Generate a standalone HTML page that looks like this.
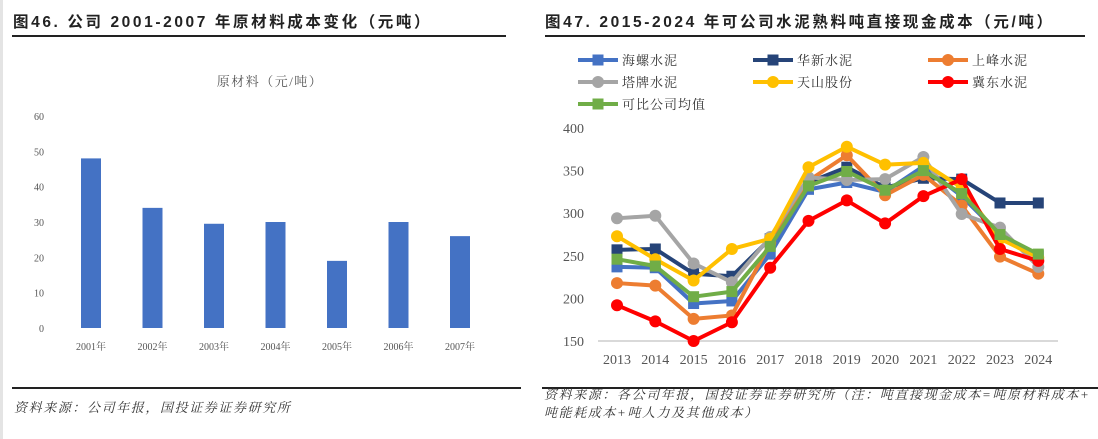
<!DOCTYPE html>
<html><head><meta charset="utf-8"><style>
body{margin:0;width:1098px;height:439px;background:#fff;overflow:hidden;position:relative;font-family:"Liberation Serif","Noto Serif CJK SC",serif}
.t{position:absolute;font-family:"Liberation Sans","Noto Sans CJK SC",sans-serif;font-weight:bold;font-size:15.5px;color:#222;white-space:nowrap}
.hl{position:absolute;height:2px;background:#222}
.src{position:absolute;font-style:italic;font-size:13px;letter-spacing:1.6px;color:#333;white-space:nowrap;font-family:"Liberation Serif","Noto Serif CJK SC",serif}
</style></head><body>
<div style="position:absolute;left:0;top:0;width:3px;height:439px;background:#e4e4e4"></div>
<div class="t" style="left:13px;top:10px;letter-spacing:2.6px">图46. 公司 2001-2007 年原材料成本变化（元吨）</div>
<div class="hl" style="left:12px;top:35px;width:494px"></div>
<div class="t" style="left:545px;top:10px;letter-spacing:2.6px">图47. 2015-2024 年可公司水泥熟料吨直接现金成本（元/吨）</div>
<div class="hl" style="left:545px;top:35px;width:540px"></div>
<div class="hl" style="left:12px;top:387px;width:509px"></div>
<div class="hl" style="left:542px;top:387px;width:556px"></div>
<div class="src" style="left:14px;top:397px">资料来源：公司年报，国投证券证券研究所</div>
<div class="src" style="left:544px;top:386px;line-height:18px">资料来源：各公司年报，国投证券证券研究所（注：吨直接现金成本=吨原材料成本+<br>吨能耗成本+吨人力及其他成本）</div>
<svg id="left" style="position:absolute;left:0;top:0" width="540" height="380"></svg>
<svg id="right" style="position:absolute;left:540px;top:0" width="558" height="380"></svg>
<script>
const barCats=["2001年","2002年","2003年","2004年","2005年","2006年","2007年"];
const barVals=[48,34,29.5,30,19,30,26];
const barTicks=[0,10,20,30,40,50,60];
const lineCats=["2013","2014","2015","2016","2017","2018","2019","2020","2021","2022","2023","2024"];
const lineTicks=[150,200,250,300,350,400];
const sHailuo=[237,236,194,197,252,328,336,325,355,320,275,250];
const sHuaxin=[257,258,229,226,270,336,354,330,341,340,312,312];
const sShangfeng=[218,215,176,180,265,338,368,321,345,309,249,229];
const sTapai=[294,297,241,219,272,342,339,340,366,299,283,237];
const sTianshan=[273,246,221,258,270,354,378,357,359,330,270,248];
const sJidong=[192,173,150,172,236,291,315,288,320,340,258,244];
const sAvg=[246,238,202,208,261,332,349,327,350,323,275,252];
const NS="http://www.w3.org/2000/svg";
function mk(p,tag,a,txt){const e=document.createElementNS(NS,tag);for(const k in a)e.setAttribute(k,a[k]);if(txt!=null)e.textContent=txt;p.appendChild(e);return e;}
const L=document.getElementById('left');
const ly=v=>328-v*(212/60);
const lx=i=>91+i*61.5;
let e=mk(L,'text',{x:270,y:86,'text-anchor':'middle','font-size':13,fill:'#555','letter-spacing':1.5},'原材料（元/吨）');

barTicks.forEach(t=>{const e=mk(L,'text',{x:44,y:ly(t)+4,'text-anchor':'end','font-size':10,fill:'#555'},t);
});
barVals.forEach((v,i)=>{const r=mk(L,'rect',{x:lx(i)-10,y:ly(v),width:20,height:ly(0)-ly(v),fill:'#4472C4'});

const t=mk(L,'text',{x:lx(i),y:350,'text-anchor':'middle','font-size':10,fill:'#555'},barCats[i]);
});
const R=document.getElementById('right');
const ry=v=>341-(v-150)*(213/250);
const rx=i=>77+i*38.3;
e=mk(R,'line',{x1:58,x2:518,y1:341,y2:341,stroke:'#d9d9d9','stroke-width':2});

lineTicks.forEach(t=>{const e=mk(R,'text',{x:44,y:ry(t)+5,'text-anchor':'end','font-size':14,fill:'#555'},t);
});
lineCats.forEach((c,i)=>{const e=mk(R,'text',{x:rx(i),y:364,'text-anchor':'middle','font-size':14,fill:'#555'},c);
});
const series=[
 ['海螺水泥',sHailuo,'#4472C4','sq'],['华新水泥',sHuaxin,'#264478','sq'],['上峰水泥',sShangfeng,'#ED7D31','ci'],
 ['塔牌水泥',sTapai,'#A5A5A5','ci'],['天山股份',sTianshan,'#FFC000','ci'],['冀东水泥',sJidong,'#FF0000','ci'],['可比公司均值',sAvg,'#70AD47','sq']];
const legPos=[[38,60],[213,60],[388,60],[38,82],[213,82],[388,82],[38,104]];
function marker(g,x,y,c,s){if(s==='sq')mk(g,'rect',{x:x-5.5,y:y-5.5,width:11,height:11,fill:c});else mk(g,'circle',{cx:x,cy:y,r:6,fill:c});}
series.forEach(([name,vals,c,s],k)=>{
 const g=mk(R,'g',{});
 
 mk(g,'polyline',{points:vals.map((v,i)=>rx(i)+','+ry(v)).join(' '),fill:'none',stroke:c,'stroke-width':4,'stroke-linejoin':'round'});
 vals.forEach((v,i)=>marker(g,rx(i),ry(v),c,s));
 const [lx0,ly0]=legPos[k];
 const lg=mk(R,'g',{});
 
 mk(lg,'line',{x1:lx0,x2:lx0+40,y1:ly0,y2:ly0,stroke:c,'stroke-width':4});
 marker(lg,lx0+20,ly0,c,s);
 mk(lg,'text',{x:lx0+44,y:ly0+5,'font-size':13,fill:'#333','letter-spacing':1},name);
});
</script>
</body></html>
